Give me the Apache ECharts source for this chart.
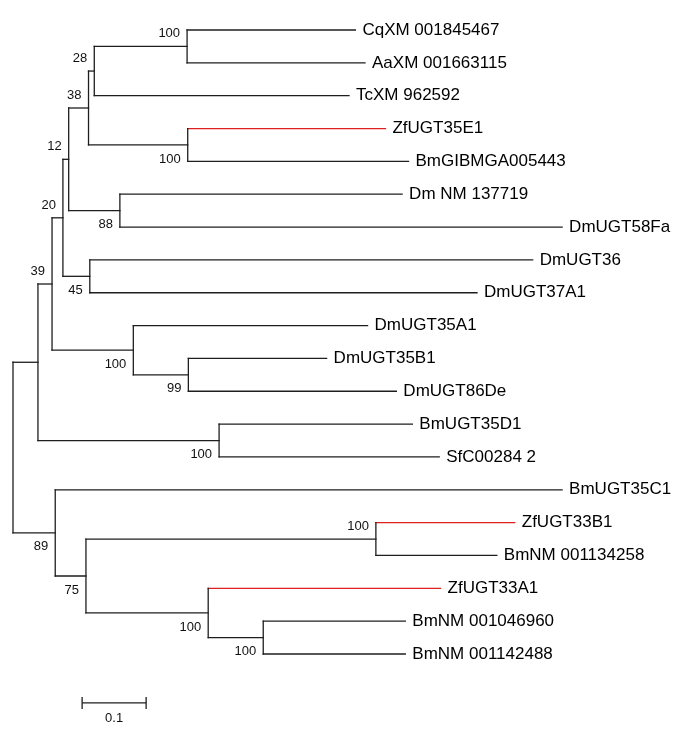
<!DOCTYPE html>
<html>
<head>
<meta charset="utf-8">
<script src="https://cdn.jsdelivr.net/npm/echarts@6/dist/echarts.min.js"></script>
<style>
html,body{margin:0;padding:0;background:#fff;}
#chart{width:685px;height:732px;}
</style>
</head>
<body>
<div id="chart"></div>
<script>
// Tree nodes in preorder (upper child first). parent = index of parent node.
const nodeNames = ['', '', '', '', '', '', '', '',
  'CqXM 001845467', 'AaXM 001663115', 'TcXM 962592', '',
  'ZfUGT35E1', 'BmGIBMGA005443', '', 'Dm NM 137719', 'DmUGT58Fa', '',
  'DmUGT36', 'DmUGT37A1', '', 'DmUGT35A1', '', 'DmUGT35B1', 'DmUGT86De', '',
  'BmUGT35D1', 'SfC00284 2', '', 'BmUGT35C1', '', '', 'ZfUGT33B1', 'BmNM 001134258', '',
  'ZfUGT33A1', '', 'BmNM 001046960', 'BmNM 001142488'];
const nodeParents = [-1, 0, 1, 2, 3, 4, 5, 6,
  7, 7, 6, 5,
  11, 11, 4, 14, 14, 3,
  17, 17, 2, 20, 20, 22, 22, 1,
  25, 25, 0, 28, 28, 30, 31, 31, 30,
  34, 34, 36, 36];
const branchLengths = [0, 0.039, 0.022, 0.017, 0.009, 0.031, 0.009, 0.145,
  0.263, 0.278, 0.398, 0.155,
  0.309, 0.345, 0.080, 0.441, 0.691, 0.042,
  0.692, 0.605, 0.127, 0.366, 0.086, 0.216, 0.325, 0.283,
  0.302, 0.344, 0.066, 0.792, 0.048, 0.453, 0.217, 0.189, 0.191,
  0.363, 0.086, 0.222, 0.222];
const bootstrapValues = [null, null, 39, 20, 12, 38, 28, 100,
  null, null, null, 100,
  null, null, 88, null, null, 45,
  null, null, 100, null, 99, null, null, 100,
  null, null, 89, null, 75, 100, null, null, 100,
  null, 100, null, null];
const highlightedLeaves = ['ZfUGT35E1', 'ZfUGT33B1', 'ZfUGT33A1'];
const scaleBarLength = 0.1;
const scaleBarLabel = '0.1';

// ---- compute layout from tree structure ----
const n = nodeNames.length;
const children = Array.from({length: n}, () => []);
for (let i = 1; i < n; i++) children[nodeParents[i]].push(i);
const nx = new Array(n).fill(0), ny = new Array(n).fill(0);
for (let i = 1; i < n; i++) nx[i] = nx[nodeParents[i]] + branchLengths[i];
let leafIdx = 0;
for (let i = 0; i < n; i++) if (children[i].length === 0) ny[i] = leafIdx++;
for (let i = n - 1; i >= 0; i--) {
  const c = children[i];
  if (c.length) ny[i] = (ny[c[0]] + ny[c[c.length - 1]]) / 2;
}
const nLeaves = leafIdx;

const segments = []; // [x1,y1,x2,y2,red]
for (let i = 1; i < n; i++) {
  const red = highlightedLeaves.indexOf(nodeNames[i]) >= 0 ? 1 : 0;
  segments.push([nx[nodeParents[i]], ny[i], nx[i], ny[i], red]);
}
for (let i = 0; i < n; i++) {
  const c = children[i];
  if (c.length) segments.push([nx[i], ny[c[0]], nx[i], ny[c[c.length - 1]], 0]);
}
const leafLabels = [], bootLabels = [];
for (let i = 0; i < n; i++) {
  if (children[i].length === 0) leafLabels.push([nx[i], ny[i], nodeNames[i]]);
  if (bootstrapValues[i] != null) {
    const p = children[nodeParents[i]];
    const upper = p[0] === i ? 1 : 0;
    bootLabels.push([nx[i], ny[i], String(bootstrapValues[i]), upper]);
  }
}
const scaleStart = 0.108;
const scaleData = [[scaleStart, nLeaves - 1 + 1.49, scaleStart + scaleBarLength, scaleBarLabel]];

const FONT = '"Liberation Sans", Arial, sans-serif';
const LINE = '#1e1e1e';
const chart = echarts.init(document.getElementById('chart'));
chart.setOption({
  animation: false,
  backgroundColor: '#ffffff',
  grid: {left: 13, right: 32, top: 30, bottom: 78},
  xAxis: {type: 'value', min: 0, max: 1, show: false},
  yAxis: {type: 'value', min: 0, max: nLeaves - 1, inverse: true, show: false},
  series: [
    {
      type: 'custom', data: segments, clip: false,
      renderItem: function (params, api) {
        const a = api.coord([api.value(0), api.value(1)]);
        const b = api.coord([api.value(2), api.value(3)]);
        return {type: 'line', shape: {x1: a[0], y1: a[1], x2: b[0], y2: b[1]},
          style: {stroke: api.value(4) ? '#e0201e' : LINE, lineWidth: 1.3, lineCap: 'square'}};
      }
    },
    {
      type: 'custom', data: leafLabels, clip: false,
      renderItem: function (params, api) {
        const p = api.coord([api.value(0), api.value(1)]);
        return {type: 'text', x: p[0] + 7, y: p[1],
          style: {text: leafLabels[params.dataIndex][2], fill: '#000', font: '17px ' + FONT,
            textAlign: 'left', textVerticalAlign: 'middle'}};
      }
    },
    {
      type: 'custom', data: bootLabels, clip: false,
      renderItem: function (params, api) {
        const d = bootLabels[params.dataIndex];
        const p = api.coord([d[0], d[1]]);
        return {type: 'text', x: p[0] - 7, y: p[1] + (d[3] ? -12.5 : 14),
          style: {text: d[2], fill: '#111', font: '13px ' + FONT,
            textAlign: 'right', textVerticalAlign: 'middle'}};
      }
    },
    {
      type: 'custom', data: scaleData, clip: false,
      renderItem: function (params, api) {
        const d = scaleData[params.dataIndex];
        const a = api.coord([d[0], d[1]]);
        const b = api.coord([d[2], d[1]]);
        const st = {stroke: LINE, lineWidth: 1.3};
        return {type: 'group', children: [
          {type: 'line', shape: {x1: a[0], y1: a[1], x2: b[0], y2: b[1]}, style: st},
          {type: 'line', shape: {x1: a[0], y1: a[1] - 6, x2: a[0], y2: a[1] + 6}, style: st},
          {type: 'line', shape: {x1: b[0], y1: b[1] - 6, x2: b[0], y2: b[1] + 6}, style: st},
          {type: 'text', x: (a[0] + b[0]) / 2, y: a[1] + 15,
            style: {text: d[3], fill: '#111', font: '13px ' + FONT, textAlign: 'center', textVerticalAlign: 'middle'}}
        ]};
      }
    }
  ]
});
</script>
</body>
</html>
